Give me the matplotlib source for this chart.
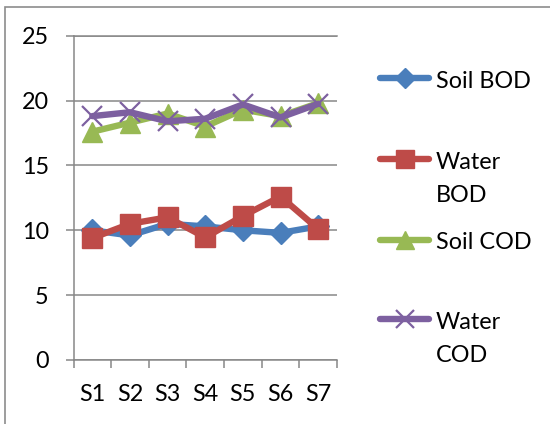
import matplotlib
matplotlib.use("Agg")
import matplotlib.pyplot as plt
from matplotlib.lines import Line2D
from matplotlib.patches import Rectangle

# Sample sites and measured oxygen demand (mg/L)
sites = ["S1", "S2", "S3", "S4", "S5", "S6", "S7"]
soil_bod = [10.0, 9.6, 10.5, 10.3, 10.0, 9.8, 10.3]
water_bod = [9.4, 10.5, 11.0, 9.45, 11.1, 12.6, 10.1]
soil_cod = [17.6, 18.3, 19.0, 18.0, 19.3, 18.8, 19.8]
water_cod = [18.8, 19.1, 18.4, 18.6, 19.7, 18.7, 19.75]

series_names = ["Soil BOD", "Water BOD", "Soil COD", "Water COD"]
series_labels = [["Soil BOD"], ["Water", "BOD"], ["Soil COD"], ["Water", "COD"]]
series_values = [soil_bod, water_bod, soil_cod, water_cod]
y_ticks = [0, 5, 10, 15, 20, 25]

colors = ["#4A7EBB", "#BE4B48", "#98B954", "#7D60A0"]
markers = ["D", "s", "^", "x"]
msizes = [11.5, 14.5, 14.5, 14.5]

plt.rcParams["font.family"] = ["Lato", "DejaVu Sans"]
FS = 16.8
GRID = "#878787"

W, H = 550, 424
fig = plt.figure(figsize=(W / 100, H / 100), dpi=100)
fig.patch.set_facecolor("white")

# outer chart border
fig.add_artist(Rectangle((5 / W, -0.1), 1.2, 1 - 7 / H + 0.1,
                         transform=fig.transFigure, fill=False,
                         edgecolor="#8C8C8C", linewidth=1.2))

left, right, top, bottom = 73.5, 337, 35.7, 360
ax = fig.add_axes([left / W, 1 - bottom / H, (right - left) / W, (bottom - top) / H])

x = list(range(len(sites)))
for vals, c, m, ms in zip(series_values, colors, markers, msizes):
    ax.plot(x, vals, color=c, linewidth=4.6, marker=m, markersize=ms,
            markerfacecolor=c, markeredgecolor=c,
            markeredgewidth=1.6 if m == "x" else 1.0,
            solid_joinstyle="round", solid_capstyle="round", clip_on=False)

ax.set_xlim(-0.5, len(sites) - 0.5)
ax.set_ylim(0, 25)
ax.set_yticks(y_ticks)
ax.set_xticks(x)
ax.set_xticklabels(sites)
ax.set_xticks([i - 0.5 for i in range(len(sites) + 1)], minor=True)

ax.yaxis.grid(True, color=GRID, linewidth=1.1)
ax.set_axisbelow(True)
ax.spines["right"].set_visible(False)
for s in ["left", "bottom", "top"]:
    ax.spines[s].set_color(GRID)
    ax.spines[s].set_linewidth(1.1)

ax.tick_params(axis="y", direction="out", length=5.8, width=1.1, color=GRID,
               pad=12, labelsize=FS, labelcolor="black")
ax.tick_params(axis="x", which="major", length=0, pad=17, labelsize=FS,
               labelcolor="black")
ax.tick_params(axis="x", which="minor", direction="out", length=5.8, width=1.1,
               color=GRID)

# legend keys drawn at the right of the plot
key_y = [78.3, 159.3, 240.0, 319.3]
baselines = [[88.3], [169.3, 201.7], [249.0], [329.3, 361.7]]
x0, x1 = 380, 429
for c, m, ms, ky, lines, bls in zip(colors, markers, msizes, key_y,
                                      series_labels, baselines):
    xs = [x0 / W, (x0 + x1) / 2 / W, x1 / W]
    ys = [1 - ky / H] * 3
    fig.add_artist(Line2D(xs, ys, transform=fig.transFigure, color=c,
                          linewidth=4.6, solid_capstyle="round",
                          marker=m, markersize=ms * 0.9, markevery=[1],
                          markerfacecolor=c, markeredgecolor=c,
                          markeredgewidth=1.6 if m == "x" else 1.0))
    for txt, bl in zip(lines, bls):
        fig.text(436 / W, 1 - bl / H, txt, fontsize=FS, ha="left",
                 va="baseline", color="black")

fig.savefig("out.png", dpi=100, facecolor="white")
